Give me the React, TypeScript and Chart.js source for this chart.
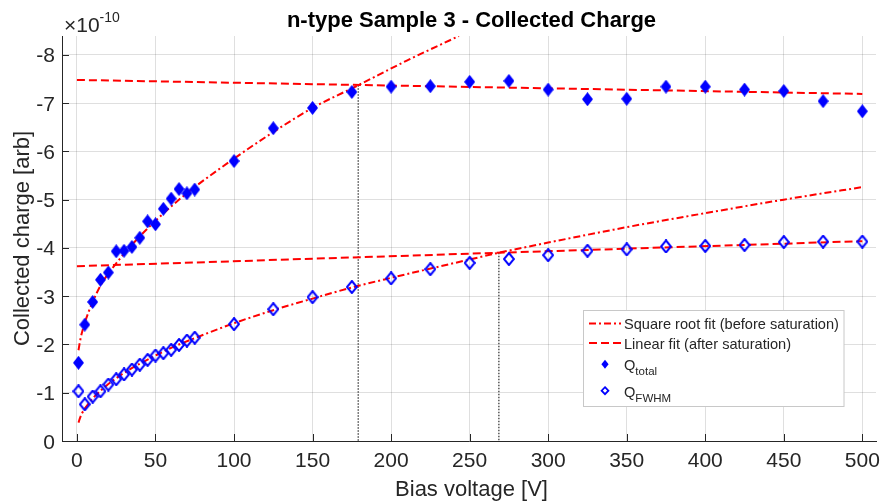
import React, { useEffect, useRef } from "react";
import { Chart, registerables } from "chart.js";

Chart.register(...registerables);

// ---------- data (charge in units of 1e-10) ----------
const titleText = "n-type Sample 3 - Collected Charge";
const xAxisLabel = "Bias voltage [V]";
const yAxisLabel = "Collected charge [arb]";
const yExponent = "-10";

const biasV = [1, 5, 10, 15, 20, 25, 30, 35, 40, 45, 50, 55, 60, 65, 70, 75, 100, 125, 150, 175, 200, 225, 250, 275, 300, 325, 350, 375, 400, 425, 450, 475, 500];
const qTotal = [-1.62, -2.41, -2.88, -3.34, -3.49, -3.93, -3.94, -4.02, -4.21, -4.55, -4.49, -4.81, -5.02, -5.22, -5.13, -5.21, -5.8, -6.48, -6.9, -7.23, -7.34, -7.35, -7.44, -7.46, -7.28, -7.08, -7.09, -7.34, -7.34, -7.28, -7.25, -7.04, -6.83];
const qFwhm = [-1.03, -0.76, -0.92, -1.03, -1.17, -1.28, -1.38, -1.48, -1.58, -1.68, -1.77, -1.82, -1.89, -1.99, -2.08, -2.14, -2.42, -2.73, -2.98, -3.19, -3.37, -3.56, -3.69, -3.77, -3.85, -3.94, -3.97, -4.03, -4.04, -4.06, -4.12, -4.13, -4.13];

const sqrtFitTotalV = [1, 2, 3, 5, 7.5, 10, 15, 20, 25, 30, 40, 50, 60, 75, 100, 125, 150, 179.1, 210, 243.2];
const sqrtFitTotalQ = [-1.88, -2.07, -2.22, -2.45, -2.68, -2.88, -3.22, -3.47, -3.68, -3.88, -4.24, -4.56, -4.86, -5.26, -5.85, -6.4, -6.9, -7.37, -7.88, -8.39];

const sqrtFitFwhmV = [1, 2, 3, 5, 7.5, 10, 15, 20, 25, 30, 40, 50, 60, 75, 100, 125, 150, 175, 200, 250, 268.6, 300, 350, 400, 450, 500];
const sqrtFitFwhmQ = [-0.38, -0.48, -0.56, -0.67, -0.78, -0.88, -1.04, -1.18, -1.3, -1.41, -1.6, -1.77, -1.93, -2.13, -2.44, -2.71, -2.95, -3.18, -3.38, -3.76, -3.9, -4.11, -4.43, -4.72, -5.0, -5.26];

const linFitTotalV = [0, 500];
const linFitTotalQ = [-7.48, -7.19];
const linFitFwhmV = [0, 500];
const linFitFwhmQ = [-3.62, -4.14];

const saturationV = [179.1, 268.6];
const saturationQ = [-7.37, -3.9];

const xTicks = [0, 50, 100, 150, 200, 250, 300, 350, 400, 450, 500];
const yTicks = [0, -1, -2, -3, -4, -5, -6, -7, -8];

const legendLabels = ["Square root fit (before saturation)", "Linear fit (after saturation)"];
const legendQ = [["Q", "total"], ["Q", "FWHM"]];

// ---------- helpers ----------
const FONT = '"Liberation Sans", Arial, Helvetica, sans-serif';
const TXT = "#262626";
const RED = "#ff0000";
const BLUE = "#0000ff";
const DASH = [8, 4];
const DASHDOT = [7, 3, 2, 3];

const pts = (xs: number[], ys: number[]) => xs.map((x, i) => ({ x, y: ys[i] }));

function makeDiamond(w: number, h: number, filled: boolean, lw = 2) {
  const c = document.createElement("canvas");
  c.width = w;
  c.height = h;
  const g = c.getContext("2d")!;
  const inset = filled ? 0 : lw / 2;
  g.beginPath();
  g.moveTo(w / 2, inset);
  g.lineTo(w - inset, h / 2);
  g.lineTo(w / 2, h - inset);
  g.lineTo(inset, h / 2);
  g.closePath();
  if (filled) {
    g.fillStyle = BLUE;
    g.fill();
  } else {
    g.strokeStyle = BLUE;
    g.lineWidth = lw;
    g.stroke();
  }
  return c;
}

const decorPlugin = {
  id: "decor",
  afterDraw(chart: any) {
    const ctx = chart.ctx as CanvasRenderingContext2D;
    const { left, top, bottom } = chart.chartArea;
    const xs = chart.scales.x;
    const ys = chart.scales.y;
    const cx = 471.5;
    ctx.save();

    // inward ticks
    ctx.strokeStyle = TXT;
    ctx.lineWidth = 1;
    ctx.setLineDash([]);
    ctx.beginPath();
    xTicks.forEach((v) => {
      const px = Math.round(xs.getPixelForValue(v)) + 0.5;
      ctx.moveTo(px, bottom);
      ctx.lineTo(px, bottom - 7);
    });
    yTicks.forEach((v) => {
      const py = Math.round(ys.getPixelForValue(v)) + 0.5;
      ctx.moveTo(left, py);
      ctx.lineTo(left + 7, py);
    });
    ctx.stroke();

    // tick labels
    ctx.fillStyle = TXT;
    ctx.font = `21px ${FONT}`;
    ctx.textBaseline = "alphabetic";
    ctx.textAlign = "center";
    xTicks.forEach((v) => {
      ctx.fillText(String(v), xs.getPixelForValue(v), 466.5);
    });
    ctx.textAlign = "right";
    yTicks.forEach((v) => {
      ctx.fillText(String(v), 55, ys.getPixelForValue(v) + 7.5);
    });

    // exponent
    ctx.textAlign = "left";
    ctx.font = `21px ${FONT}`;
    const base = "\u00d710";
    ctx.fillText(base, 64, 32);
    const bw = ctx.measureText(base).width;
    ctx.font = `14px ${FONT}`;
    ctx.fillText(yExponent, 64 + bw, 21.5);

    // title
    ctx.fillStyle = "#000";
    ctx.font = `bold 22px ${FONT}`;
    ctx.textAlign = "center";
    ctx.fillText(titleText, cx, 27);

    // axis titles
    ctx.fillStyle = TXT;
    ctx.font = `22px ${FONT}`;
    ctx.fillText(xAxisLabel, cx, 496);
    ctx.save();
    ctx.translate(29, (top + bottom) / 2);
    ctx.rotate(-Math.PI / 2);
    ctx.fillText(yAxisLabel, 0, 0);
    ctx.restore();

    // legend
    const bx = 583.5, by = 310.5, bw2 = 260.5, bh = 96;
    ctx.fillStyle = "#fff";
    ctx.fillRect(bx, by, bw2, bh);
    ctx.strokeStyle = "#c8c8c8";
    ctx.lineWidth = 1;
    ctx.strokeRect(bx, by, bw2, bh);

    ctx.strokeStyle = RED;
    ctx.lineWidth = 2;
    ctx.setLineDash(DASHDOT);
    ctx.beginPath();
    ctx.moveTo(589, 323.5);
    ctx.lineTo(621, 323.5);
    ctx.stroke();
    ctx.setLineDash(DASH);
    ctx.beginPath();
    ctx.moveTo(589, 343);
    ctx.lineTo(621, 343);
    ctx.stroke();
    ctx.setLineDash([]);

    ctx.fillStyle = TXT;
    ctx.textAlign = "left";
    ctx.font = `14.6px ${FONT}`;
    ctx.fillText(legendLabels[0], 624, 329);
    ctx.fillText(legendLabels[1], 624, 348.5);

    // legend markers
    ctx.fillStyle = BLUE;
    ctx.beginPath();
    ctx.moveTo(605, 359.8);
    ctx.lineTo(608.6, 364.3);
    ctx.lineTo(605, 368.8);
    ctx.lineTo(601.4, 364.3);
    ctx.closePath();
    ctx.fill();
    ctx.strokeStyle = BLUE;
    ctx.lineWidth = 1.8;
    ctx.beginPath();
    ctx.moveTo(605, 387.2);
    ctx.lineTo(608.4, 390.7);
    ctx.lineTo(605, 394.2);
    ctx.lineTo(601.6, 390.7);
    ctx.closePath();
    ctx.stroke();

    ctx.fillStyle = TXT;
    const rows = [370, 396.7];
    legendQ.forEach(([q, sub], i) => {
      ctx.font = `14.6px ${FONT}`;
      ctx.fillText(q, 624, rows[i]);
      const qw = ctx.measureText(q).width;
      ctx.font = `11.5px ${FONT}`;
      ctx.fillText(sub, 624 + qw, rows[i] + 5);
    });

    ctx.restore();
  },
};

export default function App() {
  const ref = useRef<HTMLCanvasElement | null>(null);

  useEffect(() => {
    document.body.style.margin = "0";
    const canvas = ref.current!;
    const filled = makeDiamond(11, 14, true);
    const open = makeDiamond(12, 14, false, 2);
    const lineBase = { showLine: true, pointRadius: 0, borderWidth: 2, fill: false };

    const chart = new Chart(canvas, {
      type: "line",
      data: {
        datasets: [
          {
            label: "Q_total",
            data: pts(biasV, qTotal),
            showLine: false,
            pointStyle: filled as any,
            pointRadius: 6,
            borderColor: BLUE,
            backgroundColor: BLUE,
          },
          {
            label: "Q_FWHM",
            data: pts(biasV, qFwhm),
            showLine: false,
            pointStyle: open as any,
            pointRadius: 6,
            borderColor: BLUE,
            backgroundColor: "transparent",
          },
          {
            label: "sqrt total",
            data: pts(sqrtFitTotalV, sqrtFitTotalQ),
            ...lineBase,
            borderColor: RED,
            borderDash: DASHDOT,
            cubicInterpolationMode: "monotone",
          },
          {
            label: "lin total",
            data: pts(linFitTotalV, linFitTotalQ),
            ...lineBase,
            borderColor: RED,
            borderDash: DASH,
          },
          {
            label: "sqrt fwhm",
            data: pts(sqrtFitFwhmV, sqrtFitFwhmQ),
            ...lineBase,
            borderColor: RED,
            borderDash: DASHDOT,
            cubicInterpolationMode: "monotone",
          },
          {
            label: "lin fwhm",
            data: pts(linFitFwhmV, linFitFwhmQ),
            ...lineBase,
            borderColor: RED,
            borderDash: DASH,
          },
          {
            label: "sat total",
            data: [
              { x: saturationV[0], y: saturationQ[0] },
              { x: saturationV[0], y: 0 },
            ],
            ...lineBase,
            borderWidth: 1.5,
            borderColor: "#555555",
            borderDash: [1.5, 1.5],
          },
          {
            label: "sat fwhm",
            data: [
              { x: saturationV[1], y: saturationQ[1] },
              { x: saturationV[1], y: 0 },
            ],
            ...lineBase,
            borderWidth: 1.5,
            borderColor: "#555555",
            borderDash: [1.5, 1.5],
          },
        ] as any,
      },
      options: {
        responsive: false,
        animation: false,
        parsing: true,
        layout: { padding: { top: 36, right: 2, left: 0, bottom: 0 } },
        plugins: {
          legend: { display: false },
          title: { display: false },
          tooltip: { enabled: false },
        },
        scales: {
          x: {
            type: "linear",
            min: -9.5,
            max: 508.7,
            afterBuildTicks: (s: any) => {
              s.ticks = xTicks.map((v) => ({ value: v }));
            },
            afterFit: (s: any) => {
              s.height = 60;
              s.paddingLeft = 0;
              s.paddingRight = 0;
            },
            ticks: { display: false },
            grid: { color: "rgba(38,38,38,0.15)", lineWidth: 1, drawTicks: false },
            border: { display: true, color: TXT, width: 1 },
          },
          y: {
            type: "linear",
            reverse: true,
            min: -8.39,
            max: 0,
            afterBuildTicks: (s: any) => {
              s.ticks = yTicks.map((v) => ({ value: v }));
            },
            afterFit: (s: any) => {
              s.width = 62;
            },
            ticks: { display: false },
            grid: { color: "rgba(38,38,38,0.15)", lineWidth: 1, drawTicks: false },
            border: { display: true, color: TXT, width: 1 },
          },
        },
      } as any,
      plugins: [decorPlugin],
    });
    return () => chart.destroy();
  }, []);

  return (
    <div style={{ width: 883, height: 501, background: "#fff" }}>
      <canvas ref={ref} width={883} height={501} style={{ display: "block" }} />
    </div>
  );
}
